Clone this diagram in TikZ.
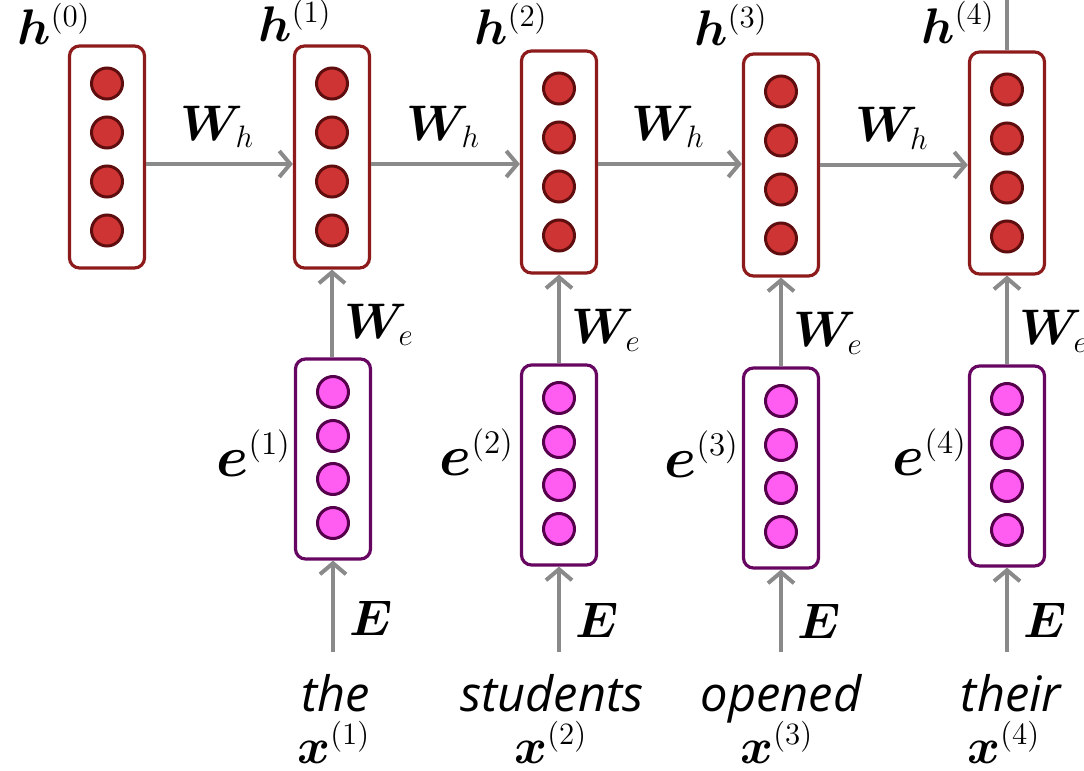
\RequirePackage{fix-cm}
\documentclass[tikz,border=0pt]{standalone}
\usepackage{fontspec}
\usepackage{amsmath,bm}
\newfontfamily\wordfont{Open Sans}
\usetikzlibrary{arrows.meta}
\DeclareMathSizes{25}{25}{15.5}{11}
\DeclareMathSizes{29}{29}{16.5}{12}
\definecolor{hborder}{HTML}{8E1B1B}
\definecolor{hfill}{HTML}{CF3434}
\definecolor{hcborder}{HTML}{5E0E0E}
\definecolor{eborder}{HTML}{660660}
\definecolor{efill}{HTML}{FF5CF2}
\definecolor{ecborder}{HTML}{55004A}
\definecolor{conngray}{HTML}{8A8A8A}
\begin{document}
\begin{tikzpicture}[x=0.5pt,y=-0.5pt,
  hbox/.style={draw=hborder,line width=1.6pt,rounded corners=5pt,minimum width=37.5pt,minimum height=111pt,inner sep=0pt,fill=white},
  ebox/.style={draw=eborder,line width=1.6pt,rounded corners=5pt,minimum width=37.5pt,minimum height=100pt,inner sep=0pt,fill=white},
  hcirc/.style={circle,draw=hcborder,fill=hfill,line width=1.5pt,minimum size=15.5pt,inner sep=0pt},
  ecirc/.style={circle,draw=ecborder,fill=efill,line width=1.5pt,minimum size=15.5pt,inner sep=0pt},
  conn/.style={draw=conngray,line width=2pt,-{Straight Barb[length=5.5pt,width=13pt,line width=2pt]}},
  plain/.style={draw=conngray,line width=2pt},
  lbl/.style={font=\fontsize{25}{30}\selectfont,inner sep=0pt},
  elbl/.style={font=\fontsize{29}{34}\selectfont,inner sep=0pt,anchor=base west},
  word/.style={font=\fontsize{24.4}{29}\selectfont\wordfont\itshape,inner sep=0pt,anchor=base}
]
\useasboundingbox (0,0) rectangle (1084,771);

% hidden state boxes
\foreach \n/\x/\y in {0/107/157, 1/332/157, 2/559/162, 3/781/165, 4/1007/163} {
  \node[hbox] (h\n) at (\x,\y) {};
  \foreach \k/\o in {1/-73.5,2/-24.5,3/24.5,4/73.5}
    \node[hcirc] (h\n c\k) at (\x,\y+\o) {};
}
% embedding boxes
\foreach \n/\x/\y in {1/333/459, 2/559/465, 3/781/468, 4/1007/466} {
  \node[ebox] (e\n) at (\x,\y) {};
  \foreach \k/\o in {1/-67,2/-23,3/20,4/64}
    \node[ecirc] (e\n c\k) at (\x,\y+\o) {};
}

% recurrent arrows
\draw[conn] ([yshift=-3.5pt]h0.east) -- ([yshift=-3.5pt]h0.east -| h1.west)
  node[midway,lbl,anchor=south,yshift=7pt,xshift=-1pt] {$\bm{W}_h$};
\draw[conn] ([yshift=-3.5pt]h1.east) -- ([yshift=-3.5pt]h1.east -| h2.west)
  node[midway,lbl,anchor=south,yshift=7pt,xshift=-1pt] {$\bm{W}_h$};
\draw[conn] ([yshift=-1pt]h2.east) -- ([yshift=-1pt]h2.east -| h3.west)
  node[midway,lbl,anchor=south,yshift=7pt,xshift=-1pt] {$\bm{W}_h$};
\draw[conn] ([yshift=0pt]h3.east) -- ([yshift=0pt]h3.east -| h4.west)
  node[midway,lbl,anchor=south,yshift=7pt,xshift=-1pt] {$\bm{W}_h$};

% output line of last state
\coordinate (top4) at (1007,0);
\draw[plain] (h4.north) -- (top4);

% embedding -> hidden
\foreach \n in {1,2,3,4} {
  \draw[conn] (e\n.north -| h\n) -- (h\n.south)
    node[pos=0.37,lbl,anchor=west,xshift=5pt] {$\bm{W}_e$};
}

% word -> embedding
\foreach \n/\x in {1/333,2/559,3/781,4/1007} {
  \coordinate (w\n) at (\x,652);
  \draw[conn] (w\n) -- (e\n.south)
    node[pos=0.37,lbl,anchor=west,xshift=7pt] {$\bm{E}$};
}

% labels of states
\node[lbl,anchor=base west] (lh0) at (17,45) {$\bm{h}^{(0)}$};
\node[lbl,anchor=base west] (lh1) at (258,41) {$\bm{h}^{(1)}$};
\node[lbl,anchor=base west] (lh2) at (474,45) {$\bm{h}^{(2)}$};
\node[lbl,anchor=base west] (lh3) at (694,46) {$\bm{h}^{(3)}$};
\node[lbl,anchor=base west] (lh4) at (921,43) {$\bm{h}^{(4)}$};

\node[elbl] (le1) at (216,476) {$\bm{e}^{(1)}$};
\node[elbl] (le2) at (439,475) {$\bm{e}^{(2)}$};
\node[elbl] (le3) at (664,477) {$\bm{e}^{(3)}$};
\node[elbl] (le4) at (892,475) {$\bm{e}^{(4)}$};

% words
\node[word] (t1) at (336,711) {the};
\node[word] (t2) at (552,711) {students};
\node[word] (t3) at (781,711) {opened};
\node[word] (t4) at (1011,711) {their};

\node[lbl,anchor=base west] (x1) at (297,763) {$\bm{x}^{(1)}$};
\node[lbl,anchor=base west] (x2) at (514,763) {$\bm{x}^{(2)}$};
\node[lbl,anchor=base west] (x3) at (740,763) {$\bm{x}^{(3)}$};
\node[lbl,anchor=base west] (x4) at (967,763) {$\bm{x}^{(4)}$};
\end{tikzpicture}
\end{document}
